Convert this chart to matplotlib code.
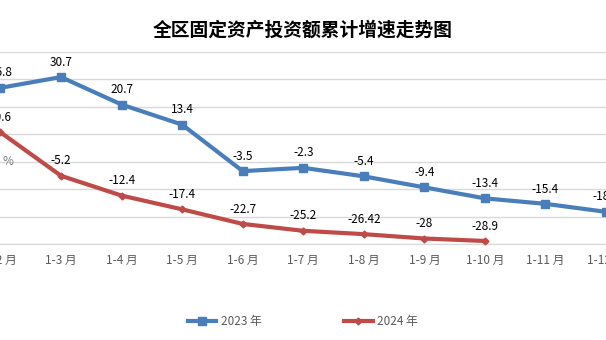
import numpy as np
import matplotlib
matplotlib.use("Agg")
from matplotlib import pyplot as plt

plt.rcParams['font.family'] = ['Noto Sans CJK SC', 'DejaVu Sans']

months = ['1-2 月', '1-3 月', '1-4 月', '1-5 月', '1-6 月', '1-7 月',
          '1-8 月', '1-9 月', '1-10 月', '1-11 月', '1-12 月']
growth_2023 = [26.8, 30.7, 20.7, 13.4, -3.5, -2.3, -5.4, -9.4, -13.4, -15.4, -18.3]
growth_2024 = [10.6, -5.2, -12.4, -17.4, -22.7, -25.2, -26.42, -28, -28.9]
labels_2024 = ['10.6', '-5.2', '-12.4', '-17.4', '-22.7', '-25.2', '-26.42', '-28', '-28.9']

blue = '#4A7EBB'
red = '#BE4B48'
grey = '#595959'

fig = plt.figure(figsize=(6.06, 3.40), dpi=100)
ax = fig.add_axes([0, 96 / 340, 1, 192.5 / 340])

x23 = np.arange(len(growth_2023))
x24 = np.arange(len(growth_2024))

ax.plot(x23, growth_2023, color=blue, lw=3.0, marker='s', ms=5.5,
        label='2023 年', zorder=3, clip_on=False)
ax.plot(x24, growth_2024, color=red, lw=3.0, marker='D', ms=3.5,
        label='2024 年', zorder=3, clip_on=False)

for xi, v in zip(x23, growth_2023):
    ax.annotate(f'{v:g}', (xi, v), xytext=(0, 6), textcoords='offset points',
                ha='center', va='bottom', fontsize=8.5, color='black')
for xi, v, s in zip(x24, growth_2024, labels_2024):
    ax.annotate(s, (xi, v), xytext=(0, 6), textcoords='offset points',
                ha='center', va='bottom', fontsize=8.5, color='black')

ax.set_xlim(-0.008, 10.0)
ax.set_ylim(-30, 40)
ax.set_yticks(np.arange(-30, 41, 10))
ax.yaxis.grid(True, color='#D9D9D9', lw=1)
ax.set_axisbelow(True)
ax.tick_params(axis='y', left=False, labelleft=False)
ax.tick_params(axis='x', length=0, pad=7, labelsize=8.5, labelcolor=grey)
ax.set_xticks(x23)
ax.set_xticklabels(months)
for side in ['top', 'right', 'left']:
    ax.spines[side].set_visible(False)
ax.spines['bottom'].set_color('#D9D9D9')

ax.text(0.04, 0, '%', ha='left', va='center', fontsize=8.5, color='#7F7F7F')

fig.text(0.5, 1 - 30 / 340, '全区固定资产投资额累计增速走势图', ha='center', va='center',
         fontsize=13.5, fontweight='bold')

fig.legend(loc='center', bbox_to_anchor=(0.5, 1 - 322 / 340), ncol=2,
           frameon=False, fontsize=8.5, labelcolor=grey, handlelength=2.4,
           columnspacing=7.0, handletextpad=0.4)

fig.savefig('out.png', dpi=100)
